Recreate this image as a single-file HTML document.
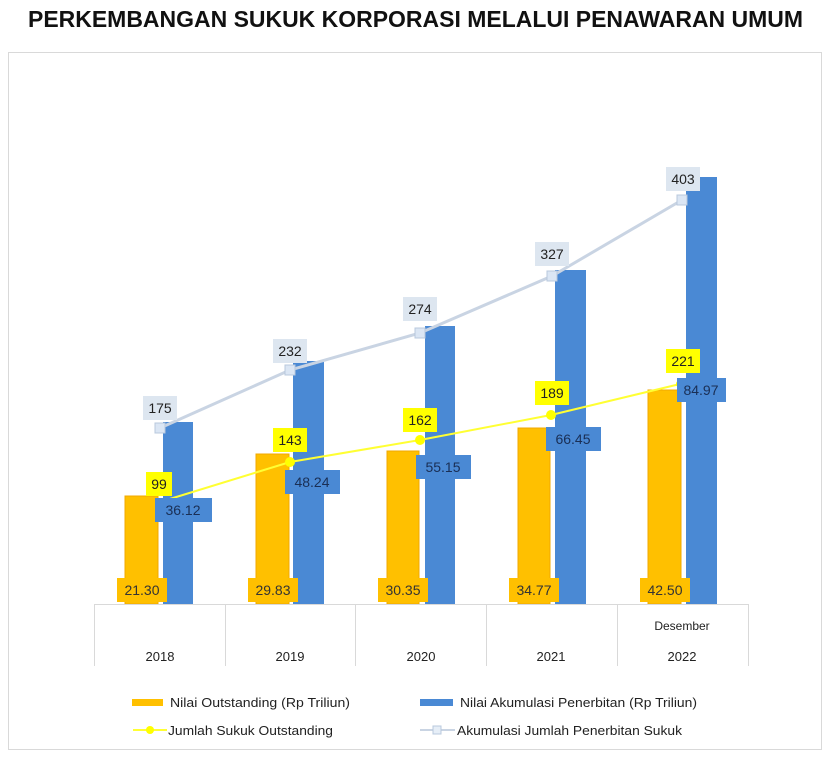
<!DOCTYPE html>
<html><head><style>
body{margin:0;background:#fff;width:830px;height:756px;overflow:hidden;font-family:"Liberation Sans",sans-serif;}
</style></head><body>
<svg width="830" height="756" xmlns="http://www.w3.org/2000/svg" font-family="Liberation Sans, sans-serif">
<text x="28" y="27" textLength="775" lengthAdjust="spacingAndGlyphs" font-size="23" font-weight="bold" fill="#111">PERKEMBANGAN SUKUK KORPORASI MELALUI PENAWARAN UMUM</text>
<rect x="8.5" y="52.5" width="813" height="697" fill="none" stroke="#d9d9d9"/>
<g fill="#ffc000" stroke="#f0a800" stroke-width="1">
<rect x="125" y="496" width="33" height="108"/>
<rect x="256" y="454" width="33" height="150"/>
<rect x="387" y="451" width="32" height="153"/>
<rect x="518" y="428" width="32" height="176"/>
<rect x="648" y="390" width="33" height="214"/>
</g>
<g fill="#4a89d4">
<rect x="163" y="422" width="30" height="182"/>
<rect x="293" y="361" width="31" height="243"/>
<rect x="425" y="326" width="30" height="278"/>
<rect x="555" y="270" width="31" height="334"/>
<rect x="686" y="177" width="31" height="427"/>
</g>
<g stroke="#d9d9d9" stroke-width="1">
<line x1="94" y1="604.5" x2="748" y2="604.5"/>
<line x1="94.5" y1="604" x2="94.5" y2="666"/>
<line x1="225.5" y1="604" x2="225.5" y2="666"/>
<line x1="355.5" y1="604" x2="355.5" y2="666"/>
<line x1="486.5" y1="604" x2="486.5" y2="666"/>
<line x1="617.5" y1="604" x2="617.5" y2="666"/>
<line x1="748.5" y1="604" x2="748.5" y2="666"/>
</g>
<g font-size="13" fill="#222" text-anchor="middle">
<text x="160" y="661">2018</text><text x="290" y="661">2019</text><text x="421" y="661">2020</text><text x="551" y="661">2021</text><text x="682" y="661">2022</text>
<text x="682" y="630" font-size="12">Desember</text>
</g>
<polyline points="160,428 290,370 420,333 552,276 682,200" fill="none" stroke="#c9d4e3" stroke-width="3"/>
<g fill="#dbe6f4" stroke="#b8c8dd"><rect x="155" y="423" width="10" height="10"/><rect x="285" y="365" width="10" height="10"/><rect x="415" y="328" width="10" height="10"/><rect x="547" y="271" width="10" height="10"/><rect x="677" y="195" width="10" height="10"/></g>
<polyline points="160,502 290,462 420,440 551,415 680,384" fill="none" stroke="#ffff33" stroke-width="2"/>
<g fill="#ffff00"><circle cx="290" cy="462" r="5"/><circle cx="420" cy="440" r="5"/><circle cx="551" cy="415" r="5"/><circle cx="680" cy="384" r="4"/></g>
<g font-size="14" text-anchor="middle" fill="#222">
<g fill="#dde6f0"><rect x="143" y="396" width="34" height="24"/><rect x="273" y="339" width="34" height="24"/><rect x="403" y="297" width="34" height="24"/><rect x="535" y="242" width="34" height="24"/><rect x="666" y="167" width="34" height="24"/></g>
<text x="160" y="413">175</text><text x="290" y="356">232</text><text x="420" y="314">274</text><text x="552" y="259">327</text><text x="683" y="184">403</text>
<g fill="#ffff00"><rect x="146" y="472" width="26" height="24"/><rect x="273" y="428" width="34" height="24"/><rect x="403" y="408" width="34" height="24"/><rect x="535" y="381" width="34" height="24"/><rect x="666" y="349" width="34" height="24"/></g>
<text x="159" y="489">99</text><text x="290" y="445">143</text><text x="420" y="425">162</text><text x="552" y="398">189</text><text x="683" y="366">221</text>
<g fill="#4a89d4"><rect x="155" y="498" width="57" height="24"/><rect x="285" y="470" width="55" height="24"/><rect x="416" y="455" width="55" height="24"/><rect x="546" y="427" width="55" height="24"/><rect x="677" y="378" width="49" height="24"/></g>
<g fill="#1a2f55"><text x="183" y="515">36.12</text><text x="312" y="487">48.24</text><text x="443" y="472">55.15</text><text x="573" y="444">66.45</text><text x="701" y="395">84.97</text></g>
<g fill="#ffc000"><rect x="117" y="578" width="50" height="24"/><rect x="248" y="578" width="50" height="24"/><rect x="378" y="578" width="50" height="24"/><rect x="509" y="578" width="50" height="24"/><rect x="640" y="578" width="50" height="24"/></g>
<g fill="#333"><text x="142" y="595">21.30</text><text x="273" y="595">29.83</text><text x="403" y="595">30.35</text><text x="534" y="595">34.77</text><text x="665" y="595">42.50</text></g>
</g>
<rect x="132" y="699" width="31" height="7" fill="#ffc000"/>
<rect x="420" y="699" width="33" height="7" fill="#4a89d4"/>
<line x1="133" y1="730" x2="167" y2="730" stroke="#ffff33" stroke-width="2"/><circle cx="150" cy="730" r="4" fill="#ffff00"/>
<line x1="420" y1="730" x2="455" y2="730" stroke="#c9d4e3" stroke-width="2"/><rect x="433" y="726" width="8" height="8" fill="#e6eef7" stroke="#b8c8dd"/>
<g font-size="13" fill="#222">
<text x="170" y="707" textLength="180" lengthAdjust="spacingAndGlyphs">Nilai Outstanding (Rp Triliun)</text>
<text x="460" y="707" textLength="237" lengthAdjust="spacingAndGlyphs">Nilai Akumulasi Penerbitan (Rp Triliun)</text>
<text x="168" y="735" textLength="165" lengthAdjust="spacingAndGlyphs">Jumlah Sukuk Outstanding</text>
<text x="457" y="735" textLength="225" lengthAdjust="spacingAndGlyphs">Akumulasi Jumlah Penerbitan Sukuk</text>
</g>
</svg>
</body></html>
